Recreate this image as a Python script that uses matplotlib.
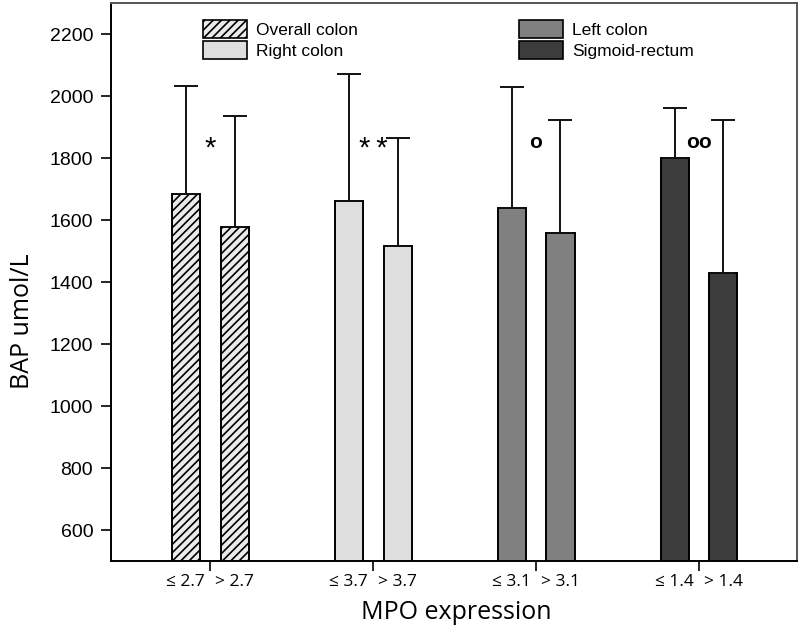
import matplotlib.pyplot as plt
import numpy as np
from matplotlib.patches import Patch

# dados
grupos = ['Overall colon', 'Right colon', 'Left colon', 'Sigmoid-rectum']
rot_baixo = ['≤ 2.7', '≤ 3.7', '≤ 3.1', '≤ 1.4']
rot_alto = ['> 2.7', '> 3.7', '> 3.1', '> 1.4']
media_baixo = [1685, 1662, 1640, 1800]
media_alto = [1578, 1517, 1557, 1430]
dp_baixo = [348, 411, 390, 163]
dp_alto = [358, 349, 365, 492]
marcas = ['*', '*\u2009*', 'o', 'oo']

cores = ['#ebebeb', '#dedede', '#808080', '#3c3c3c']
hachuras = ['////', None, None, None]

plt.rcParams['hatch.linewidth'] = 1.2

fig = plt.figure(figsize=(8, 6.34), dpi=100)
ax = fig.add_axes([0.139, 0.115, 0.857, 0.880])

pos = np.arange(1, 5)
desl = 0.15
larg = 0.172

for i in range(4):
    for x, m, d in [(pos[i] - desl, media_baixo[i], dp_baixo[i]),
                    (pos[i] + desl, media_alto[i], dp_alto[i])]:
        ax.bar(x, m, width=larg, color=cores[i], edgecolor='black', linewidth=1.4,
               hatch=hachuras[i], zorder=2)
        ax.errorbar(x, m, yerr=[[0], [d]], color='#111111', elinewidth=1.4,
                    capsize=8.5, capthick=1.4, zorder=3)
    if marcas[i].startswith('o'):
        ax.text(pos[i], 1850, marcas[i], ha='center', va='center',
                fontsize=15, fontweight='bold', family='Liberation Sans')
    else:
        ax.text(pos[i], 1830, marcas[i], ha='center', va='center',
                fontsize=21, family='Liberation Sans')

ax.set_ylim(500, 2300)
ax.set_xlim(0.393, 4.60)
ax.set_yticks(range(600, 2201, 200))
ax.tick_params(axis='y', labelsize=14, length=7, width=1.2, direction='out', pad=6)
for t in ax.get_yticklabels():
    t.set_family('Liberation Sans')

ax.set_xticks(pos)
ax.set_xticklabels([])
ax.tick_params(axis='x', which='major', length=7, width=1.2)
xs_min = np.concatenate([pos - desl, pos + desl])
ax.set_xticks(xs_min, minor=True)
ax.set_xticklabels(rot_baixo + rot_alto, minor=True, fontsize=12.5, family='Open Sans')
ax.tick_params(axis='x', which='minor', length=0, pad=9)

for s in ax.spines.values():
    s.set_linewidth(1.4)
ax.spines['top'].set_color('#555555')
ax.spines['right'].set_color('#555555')

ax.set_ylabel('BAP umol/L', fontsize=18, family='Open Sans')
ax.set_xlabel('MPO expression', fontsize=18, family='Open Sans')
ax.yaxis.set_label_coords(-0.13, 0.43)
ax.xaxis.set_label_coords(0.504, -0.093)
ax.yaxis.label.set_va('center')
ax.xaxis.label.set_va('center')

# legendas em dois blocos
h1 = [Patch(facecolor=cores[0], edgecolor='black', hatch='////', linewidth=1.2),
      Patch(facecolor=cores[1], edgecolor='black', linewidth=1.2)]
h2 = [Patch(facecolor=cores[2], edgecolor='black', linewidth=1.2),
      Patch(facecolor=cores[3], edgecolor='black', linewidth=1.2)]
opts = dict(loc='upper left', frameon=False,
            prop={'family': 'Liberation Sans', 'size': 12.5},
            handlelength=2.53, handleheight=1.2, labelspacing=0.17,
            handletextpad=0.52, borderpad=0, borderaxespad=0)
leg1 = ax.legend(h1, grupos[:2], bbox_to_anchor=(0.134, 0.969), **opts)
ax.add_artist(leg1)
ax.legend(h2, grupos[2:], bbox_to_anchor=(0.595, 0.969), **opts)

fig.savefig('out.png', dpi=100)
